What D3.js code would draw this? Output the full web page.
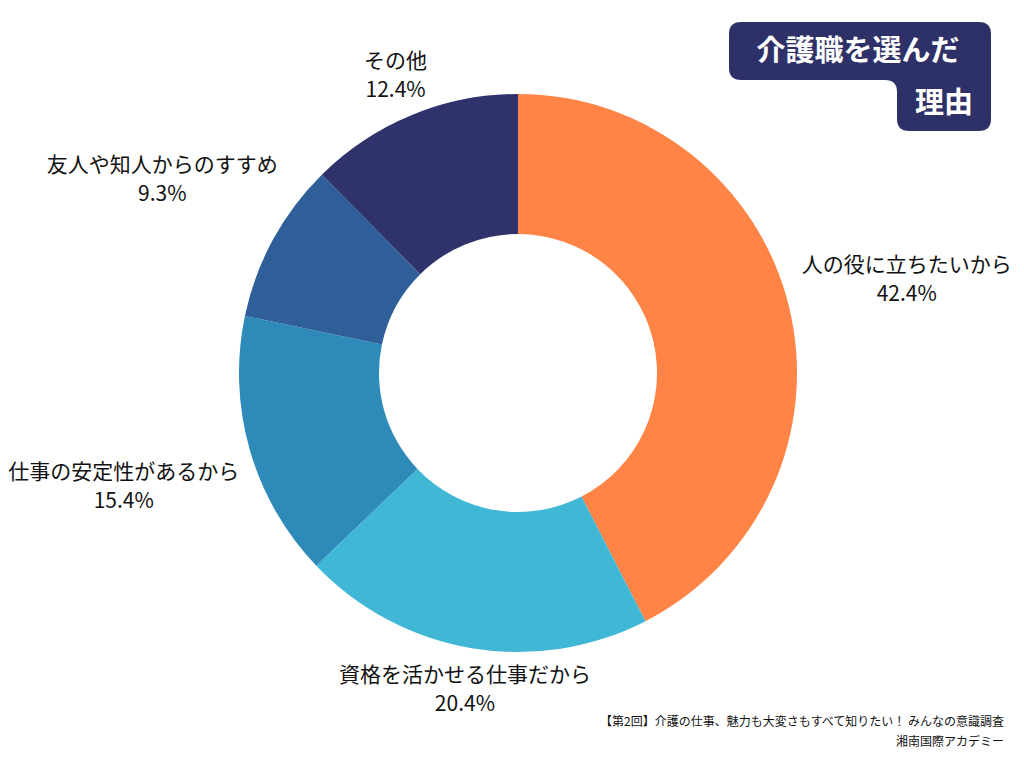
<![CDATA[<!DOCTYPE html><html><head><meta charset="utf-8"><script src="https://cdn.jsdelivr.net/npm/d3@7"></script>
<style>body{margin:0;background:#fff}text{font-family:"Noto Sans CJK JP","Noto Sans",sans-serif}</style></head><body><svg width="1024" height="768"></svg><script>
const categories=["人の役に立ちたいから","資格を活かせる仕事だから","仕事の安定性があるから","友人や知人からのすすめ","その他"];
const values=[42.4,20.4,15.4,9.3,12.4];
const colors=["#FF8445","#41B7D6","#2E8BB9","#2E5F99","#30336B"];
const labelRadius=[400,320,410,405,322];
const svg=d3.select("svg");
const g=svg.append("g").attr("transform","translate(518,373)");
const pie=d3.pie().sort(null).value(d=>d)(values);
const arc=d3.arc().innerRadius(139).outerRadius(279);
g.selectAll("path").data(pie).join("path").attr("d",arc).attr("fill",(d,i)=>colors[i]);
pie.forEach((d,i)=>{
 const c=d3.arc().innerRadius(labelRadius[i]).outerRadius(labelRadius[i]).centroid(d);
 const t=g.append("text").attr("text-anchor","middle").attr("font-size",21).attr("fill","#111");
 t.append("tspan").attr("x",c[0]).attr("y",c[1]-7).text(categories[i]);
 t.append("tspan").attr("x",c[0]).attr("y",c[1]+22).text(values[i].toFixed(1)+"%");
});
svg.append("path").attr("fill","#2E3168").attr("d","M741,22H979Q991,22 991,34V119Q991,131 979,131H909Q897,131 897,119V92Q897,80 885,80H741Q729,80 729,68V34Q729,22 741,22Z");
svg.append("text").attr("x",858).attr("y",61).attr("text-anchor","middle").attr("font-size",29).attr("font-weight","bold").attr("fill","#fff").text("介護職を選んだ");
svg.append("text").attr("x",944).attr("y",113).attr("text-anchor","middle").attr("font-size",29).attr("font-weight","bold").attr("fill","#fff").text("理由");
svg.append("text").attr("x",1004).attr("y",726).attr("text-anchor","end").attr("font-size",12).attr("fill","#111").text("【第2回】介護の仕事、魅力も大変さもすべて知りたい！ みんなの意識調査");
svg.append("text").attr("x",1004).attr("y",746).attr("text-anchor","end").attr("font-size",12).attr("fill","#111").text("湘南国際アカデミー");
</script></body></html>]]>
